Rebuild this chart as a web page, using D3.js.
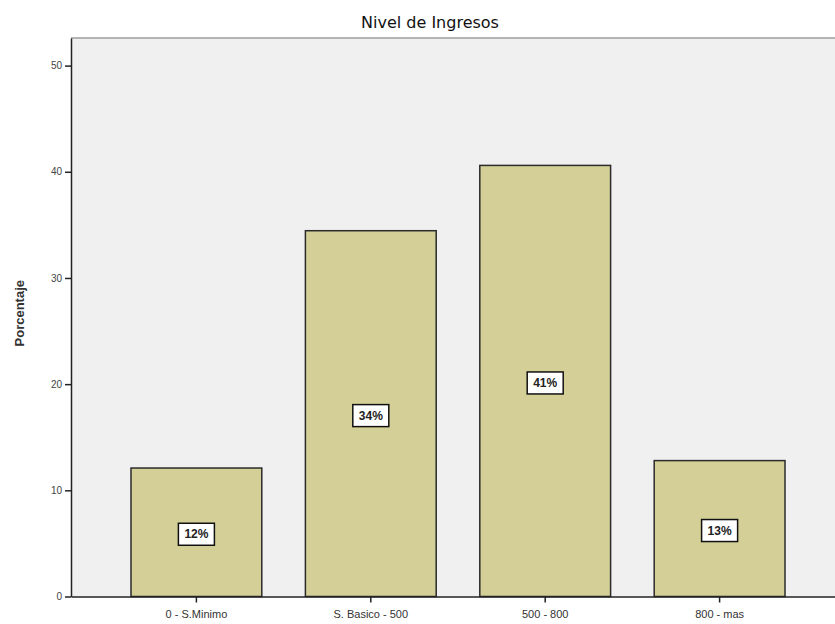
<!DOCTYPE html>
<html>
<head>
<meta charset="utf-8">
<script src="https://cdn.jsdelivr.net/npm/d3@7"></script>
<style>
  html, body { margin: 0; padding: 0; background: #ffffff; }
  svg { display: block; }
</style>
</head>
<body>
<svg id="chart" width="835" height="624"></svg>
<script>
const categories = ["0 - S.Minimo", "S. Basico - 500", "500 - 800", "800 - mas"];
const values = [12.1, 34.45, 40.6, 12.8];
const barLabels = ["12%", "34%", "41%", "13%"];
const yTicks = [0, 10, 20, 30, 40, 50];
const chartTitle = "Nivel de Ingresos";
const yTitle = "Porcentaje";

(function () {
const svg = d3.select("#chart");
const pLeft = 71, pRight = 845, pTop = 38, pBottom = 596.5;

const x = d3.scaleBand().domain(categories).range([pLeft, pRight])
  .paddingInner(0.25).paddingOuter(0.344);
const y = d3.scaleLinear().domain([0, 52.6]).range([pBottom, pTop]);

// plot background
svg.append("rect").attr("x", pLeft).attr("y", pTop)
  .attr("width", 835 - pLeft).attr("height", pBottom - pTop)
  .attr("fill", "#f0f0f0");
svg.append("line").attr("x1", pLeft).attr("x2", 835).attr("y1", pTop).attr("y2", pTop)
  .attr("stroke", "#b4b4b4").attr("stroke-width", 2);

// bars
svg.append("g").selectAll("rect").data(values).join("rect")
  .attr("x", (d, i) => x(categories[i]))
  .attr("y", d => y(d))
  .attr("width", x.bandwidth())
  .attr("height", d => y(0) - y(d))
  .attr("fill", "#d3cf96")
  .attr("stroke", "#2b2b2b")
  .attr("stroke-width", 1.5);

// value labels
const lg = svg.append("g").selectAll("g").data(values).join("g")
  .attr("transform", (d, i) => `translate(${x(categories[i]) + x.bandwidth() / 2},${(y(d) + y(0)) / 2 + 2})`);
lg.append("rect").attr("x", -18).attr("y", -11).attr("width", 36).attr("height", 22)
  .attr("fill", "#ffffff").attr("stroke", "#111").attr("stroke-width", 1.5);
lg.append("text").text((d, i) => barLabels[i])
  .attr("text-anchor", "middle").attr("dy", "0.35em")
  .attr("font-family", "Liberation Sans, Arial, sans-serif")
  .attr("font-size", 12).attr("font-weight", "bold").attr("fill", "#222");

// axes
const yAxis = d3.axisLeft(y).tickValues(yTicks).tickSize(6).tickSizeOuter(0).tickPadding(3);
const yg = svg.append("g").attr("transform", `translate(${pLeft},0)`).call(yAxis);
yg.select(".domain").attr("stroke", "#222").attr("stroke-width", 1.5);
yg.selectAll(".tick line").attr("stroke", "#222").attr("stroke-width", 1.5);
yg.selectAll(".tick text").attr("font-family", "Liberation Sans, Arial, sans-serif")
  .attr("font-size", 10).attr("fill", "#444");

const xAxis = d3.axisBottom(x).tickSize(6).tickSizeOuter(0).tickPadding(8);
const xg = svg.append("g").attr("transform", `translate(0,${pBottom})`).call(xAxis);
xg.select(".domain").attr("stroke", "#222").attr("stroke-width", 1.5);
xg.selectAll(".tick line").attr("stroke", "#222").attr("stroke-width", 1.5);
xg.selectAll(".tick text").attr("font-family", "Liberation Sans, Arial, sans-serif")
  .attr("font-size", 11).attr("fill", "#333");

// title
svg.append("text").text(chartTitle).attr("x", 430).attr("y", 28)
  .attr("text-anchor", "middle")
  .attr("font-family", "DejaVu Sans, sans-serif").attr("font-size", 16).attr("fill", "#111");

// y title
svg.append("text").text(yTitle)
  .attr("transform", `translate(24,${(pTop + pBottom) / 2 - 4}) rotate(-90)`)
  .attr("text-anchor", "middle")
  .attr("font-family", "Liberation Sans, Arial, sans-serif").attr("font-size", 13)
  .attr("font-weight", "bold").attr("fill", "#333");
})();
</script>
</body>
</html>
